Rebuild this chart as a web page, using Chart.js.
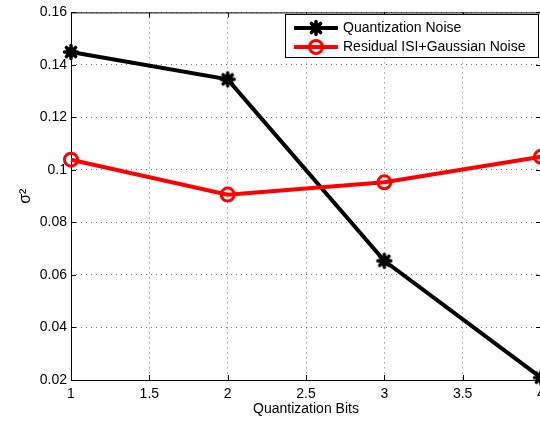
<!DOCTYPE html>
<html>
<head>
<meta charset="utf-8">
<script src="https://cdn.jsdelivr.net/npm/chart.js@4.4.1/dist/chart.umd.min.js"></script>
<style>
html,body{margin:0;padding:0;background:#fff;overflow:hidden;width:540px;height:424px;}
canvas{display:block;}
</style>
</head>
<body>
<canvas id="c" width="580" height="424"></canvas>
<script>
const bits = [1, 2, 3, 4];
const quantNoise = [0.1449, 0.1345, 0.0654, 0.0209];
const residualNoise = [0.1039, 0.0906, 0.0953, 0.1050];
const xTicks = [1, 1.5, 2, 2.5, 3, 3.5, 4];
const yTicks = [0.02, 0.04, 0.06, 0.08, 0.1, 0.12, 0.14, 0.16];
const seriesNames = ['Quantization Noise', 'Residual ISI+Gaussian Noise'];
const xTitle = 'Quantization Bits';
const yTitle = 'σ²';

const FONT = 'Liberation Sans, Arial, Helvetica, sans-serif';

function drawAsterisk(ctx, cx, cy) {
  ctx.save();
  ctx.strokeStyle = '#000';
  ctx.fillStyle = '#000';
  ctx.lineWidth = 3.5;
  ctx.lineCap = 'round';
  ctx.beginPath();
  const r = 6.5;
  for (let k = 0; k < 4; k++) {
    const ang = k * Math.PI / 4;
    ctx.moveTo(cx + r * Math.cos(ang), cy + r * Math.sin(ang));
    ctx.lineTo(cx - r * Math.cos(ang), cy - r * Math.sin(ang));
  }
  ctx.stroke();
  ctx.beginPath();
  ctx.arc(cx, cy, 5, 0, Math.PI * 2);
  ctx.fill();
  ctx.restore();
}
const starImg = document.createElement('canvas');
starImg.width = 18; starImg.height = 18;
drawAsterisk(starImg.getContext('2d'), 9, 9);

const boxPlugin = {
  id: 'matlabBox',
  beforeDatasetsDraw(chart) {
    const {ctx, chartArea: a, scales} = chart;
    ctx.save();
    ctx.strokeStyle = '#000';
    ctx.lineWidth = 1;
    ctx.setLineDash([]);
    ctx.beginPath();
    ctx.rect(a.left + 0.5, a.top + 0.5, a.right - a.left, a.bottom - a.top);
    ctx.stroke();
    const tl = 5;
    ctx.beginPath();
    xTicks.forEach(v => {
      const px = Math.round(scales.x.getPixelForValue(v)) + 0.5;
      ctx.moveTo(px, a.bottom); ctx.lineTo(px, a.bottom - tl);
      ctx.moveTo(px, a.top); ctx.lineTo(px, a.top + tl);
    });
    yTicks.forEach(v => {
      const py = Math.round(scales.y.getPixelForValue(v)) + 0.5;
      ctx.moveTo(a.left, py); ctx.lineTo(a.left + tl, py);
      ctx.moveTo(a.right, py); ctx.lineTo(a.right - tl, py);
    });
    ctx.stroke();
    ctx.restore();
  },
  afterDraw(chart) {
    const ctx = chart.ctx;
    ctx.save();
    const bx = 285.5, by = 14.5, bw = 253, bh = 43;
    ctx.fillStyle = '#fff';
    ctx.fillRect(bx, by, bw, bh);
    ctx.strokeStyle = '#000';
    ctx.lineWidth = 1;
    ctx.strokeRect(bx, by, bw, bh);
    const rows = [28, 47];
    const colors = ['#000', '#ff0000'];
    rows.forEach((y, i) => {
      ctx.strokeStyle = colors[i];
      ctx.lineWidth = 4;
      ctx.beginPath();
      ctx.moveTo(294, y); ctx.lineTo(338, y);
      ctx.stroke();
      const cx = 316;
      if (i === 0) {
        drawAsterisk(ctx, cx, y);
      } else {
        ctx.lineWidth = 3;
        ctx.beginPath();
        ctx.arc(cx, y, 6.5, 0, Math.PI * 2);
        ctx.stroke();
      }
      ctx.fillStyle = '#000';
      ctx.font = '14px ' + FONT;
      ctx.textBaseline = 'middle';
      ctx.textAlign = 'left';
      ctx.fillText(seriesNames[i], 343, y + 0.5);
    });
    ctx.restore();
  }
};

new Chart(document.getElementById('c'), {
  type: 'line',
  data: {
    datasets: [
      {
        label: seriesNames[0],
        data: bits.map((b, i) => ({x: b, y: quantNoise[i]})),
        borderColor: '#000',
        backgroundColor: '#000',
        borderWidth: 4,
        pointStyle: starImg,
        pointRadius: 7,
        tension: 0,
        clip: false,
        order: 1
      },
      {
        label: seriesNames[1],
        data: bits.map((b, i) => ({x: b, y: residualNoise[i]})),
        borderColor: '#ff0000',
        backgroundColor: 'rgba(0,0,0,0)',
        borderWidth: 4,
        pointStyle: 'circle',
        pointRadius: 6.5,
        pointBorderWidth: 3,
        pointBorderColor: '#ff0000',
        pointBackgroundColor: 'rgba(0,0,0,0)',
        tension: 0,
        clip: false,
        order: 0
      }
    ]
  },
  options: {
    responsive: false,
    animation: false,
    events: [],
    layout: {padding: {left: 0, top: 10, right: 39, bottom: 0}},
    plugins: {legend: {display: false}, tooltip: {enabled: false}},
    scales: {
      x: {
        type: 'linear',
        min: 1, max: 4,
        afterFit(s) { s.height = 44; },
        afterBuildTicks(s) { s.ticks = xTicks.map(v => ({value: v})); },
        ticks: {
          font: {family: FONT, size: 14},
          color: '#000',
          padding: 6,
          maxRotation: 0,
          autoSkip: false,
          callback: v => String(v)
        },
        grid: {color: 'rgba(0,0,0,0.55)', lineWidth: 1, drawTicks: false},
        border: {display: false, dash: [1, 4]},
        title: {
          display: true, text: xTitle, color: '#000',
          font: {family: FONT, size: 14},
          padding: {top: 0, bottom: 6}
        }
      },
      y: {
        type: 'linear',
        min: 0.02, max: 0.16,
        afterFit(s) { s.width = 71; },
        afterBuildTicks(s) { s.ticks = yTicks.map(v => ({value: v})); },
        ticks: {
          font: {family: FONT, size: 14},
          color: '#000',
          padding: 4,
          autoSkip: false,
          callback: v => String(+v.toFixed(2))
        },
        grid: {color: 'rgba(0,0,0,0.55)', lineWidth: 1, drawTicks: false},
        border: {display: false, dash: [1, 4]},
        title: {
          display: true, text: yTitle, color: '#000',
          font: {family: FONT, size: 16},
          padding: {top: 16, bottom: 0}
        }
      }
    }
  },
  plugins: [boxPlugin]
});
</script>
</body>
</html>
